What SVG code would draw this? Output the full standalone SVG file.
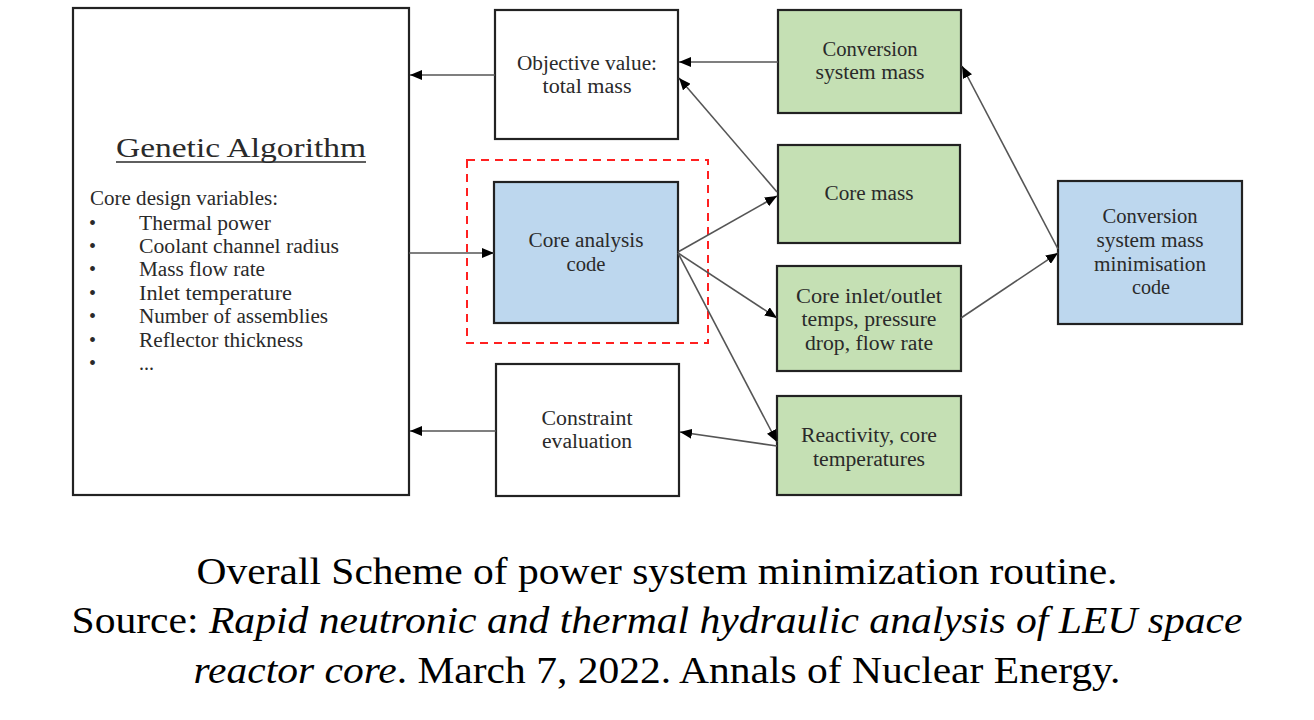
<svg xmlns="http://www.w3.org/2000/svg" width="1314" height="720" viewBox="0 0 1314 720">
<defs>
<marker id="ah" viewBox="0 0 12 10" refX="12" refY="5" markerWidth="12" markerHeight="10" markerUnits="userSpaceOnUse" orient="auto">
<path d="M0,0 L12,5 L0,10 Z" fill="#000"/>
</marker>
</defs>
<style>
.box{stroke:#222;stroke-width:2.2}
.w{fill:#fff}
.g{fill:#c5e0b4}
.b{fill:#bdd7ee}
.t{font-family:"Liberation Serif","DejaVu Serif",serif;font-size:20px;fill:#2a2a2a;text-anchor:middle}
.l{font-family:"Liberation Serif","DejaVu Serif",serif;font-size:20px;fill:#2a2a2a}
.c{font-family:"Liberation Serif","Times New Roman",serif;font-size:37px;fill:#000;text-anchor:middle}
.con{stroke:#555;stroke-width:1.6;fill:none;marker-end:url(#ah)}
</style>
<rect width="1314" height="720" fill="#fff"/>
<g id="ga">
<rect class="box w" x="73" y="8" width="336" height="487"/>
<text x="241" y="157" font-family="Liberation Serif,DejaVu Serif,serif" font-size="28" fill="#2a2a2a" text-anchor="middle" textLength="250" lengthAdjust="spacingAndGlyphs">Genetic Algorithm</text>
<line x1="116" y1="162" x2="366" y2="162" stroke="#2a2a2a" stroke-width="1.5"/>
<text class="l" x="90" y="205" textLength="188" lengthAdjust="spacingAndGlyphs">Core design variables:</text>
<g class="l">
<text x="89" y="230">•</text><text x="139" y="230" textLength="132" lengthAdjust="spacingAndGlyphs">Thermal power</text>
<text x="89" y="253">•</text><text x="139" y="253" textLength="200" lengthAdjust="spacingAndGlyphs">Coolant channel radius</text>
<text x="89" y="276">•</text><text x="139" y="276" textLength="126" lengthAdjust="spacingAndGlyphs">Mass flow rate</text>
<text x="89" y="300">•</text><text x="139" y="300" textLength="153" lengthAdjust="spacingAndGlyphs">Inlet temperature</text>
<text x="89" y="323">•</text><text x="139" y="323" textLength="189" lengthAdjust="spacingAndGlyphs">Number of assemblies</text>
<text x="89" y="347">•</text><text x="139" y="347" textLength="164" lengthAdjust="spacingAndGlyphs">Reflector thickness</text>
<text x="89" y="370">•</text><text x="139" y="370">...</text>
</g>
</g>
<g id="objective">
<rect class="box w" x="495" y="10" width="183" height="129"/>
<text class="t" x="587" y="70" textLength="140" lengthAdjust="spacingAndGlyphs">Objective value:</text>
<text class="t" x="587" y="93" textLength="89" lengthAdjust="spacingAndGlyphs">total mass</text>
</g>
<g id="dashed-frame">
<rect x="467" y="160" width="241" height="183" fill="none" stroke="#ff2020" stroke-width="2" stroke-dasharray="8,6"/>
</g>
<g id="core-analysis">
<rect class="box b" x="494" y="182" width="184" height="141"/>
<text class="t" x="586" y="247" textLength="115" lengthAdjust="spacingAndGlyphs">Core analysis</text>
<text class="t" x="586" y="271" textLength="39" lengthAdjust="spacingAndGlyphs">code</text>
</g>
<g id="constraint">
<rect class="box w" x="496" y="364" width="183" height="132"/>
<text class="t" x="587" y="425" textLength="91" lengthAdjust="spacingAndGlyphs">Constraint</text>
<text class="t" x="587" y="448" textLength="90" lengthAdjust="spacingAndGlyphs">evaluation</text>
</g>
<g id="conv-mass">
<rect class="box g" x="778" y="10" width="183" height="103"/>
<text class="t" x="870" y="56" textLength="95" lengthAdjust="spacingAndGlyphs">Conversion</text>
<text class="t" x="870" y="79" textLength="109" lengthAdjust="spacingAndGlyphs">system mass</text>
</g>
<g id="core-mass">
<rect class="box g" x="778" y="145" width="182" height="98"/>
<text class="t" x="869" y="200" textLength="89" lengthAdjust="spacingAndGlyphs">Core mass</text>
</g>
<g id="core-inlet">
<rect class="box g" x="777" y="266" width="184" height="105"/>
<text class="t" x="869" y="303" textLength="146" lengthAdjust="spacingAndGlyphs">Core inlet/outlet</text>
<text class="t" x="869" y="326" textLength="135" lengthAdjust="spacingAndGlyphs">temps, pressure</text>
<text class="t" x="869" y="350" textLength="128" lengthAdjust="spacingAndGlyphs">drop, flow rate</text>
</g>
<g id="reactivity">
<rect class="box g" x="777" y="396" width="184" height="99"/>
<text class="t" x="869" y="442" textLength="136" lengthAdjust="spacingAndGlyphs">Reactivity, core</text>
<text class="t" x="869" y="466" textLength="112" lengthAdjust="spacingAndGlyphs">temperatures</text>
</g>
<g id="conv-min">
<rect class="box b" x="1058" y="181" width="184" height="143"/>
<text class="t" x="1150" y="223" textLength="95" lengthAdjust="spacingAndGlyphs">Conversion</text>
<text class="t" x="1150" y="247" textLength="107" lengthAdjust="spacingAndGlyphs">system mass</text>
<text class="t" x="1150" y="271" textLength="112" lengthAdjust="spacingAndGlyphs">minimisation</text>
<text class="t" x="1151" y="294" textLength="38" lengthAdjust="spacingAndGlyphs">code</text>
</g>
<g id="connectors">
<line class="con" x1="495" y1="75" x2="410" y2="75"/>
<line class="con" x1="409" y1="253" x2="494" y2="253"/>
<line class="con" x1="496" y1="431" x2="410" y2="431"/>
<line class="con" x1="778" y1="62" x2="679" y2="62"/>
<line class="con" x1="777" y1="192" x2="679" y2="78"/>
<line class="con" x1="678" y1="252" x2="777" y2="196"/>
<line class="con" x1="678" y1="253" x2="777" y2="318"/>
<line class="con" x1="678" y1="253" x2="777" y2="442"/>
<line class="con" x1="777" y1="446" x2="680" y2="432"/>
<line class="con" x1="1058" y1="249" x2="962" y2="66"/>
<line class="con" x1="961" y1="318" x2="1058" y2="253"/>
</g>
<g id="caption">
<text class="c" x="657" y="584" textLength="921" lengthAdjust="spacingAndGlyphs">Overall Scheme of power system minimization routine.</text>
<text class="c" x="657" y="633" textLength="1171" lengthAdjust="spacingAndGlyphs">Source: <tspan font-style="italic">Rapid neutronic and thermal hydraulic analysis of LEU space</tspan></text>
<text class="c" x="657" y="683" textLength="927" lengthAdjust="spacingAndGlyphs"><tspan font-style="italic">reactor core</tspan>. March 7, 2022. Annals of Nuclear Energy.</text>
</g>
</svg>
